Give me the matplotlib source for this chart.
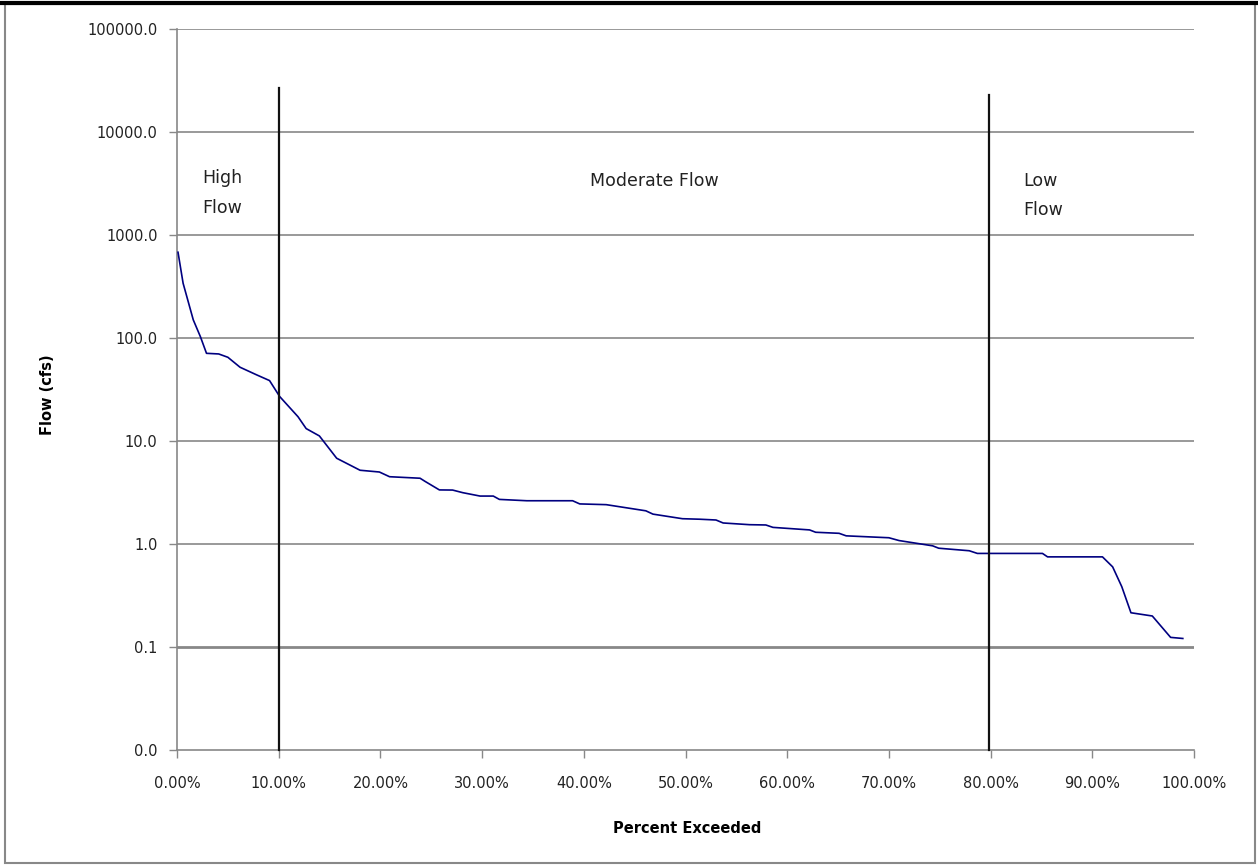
import matplotlib
matplotlib.use("Agg")
import matplotlib.pyplot as plt
from matplotlib.ticker import FixedLocator, FixedFormatter
from matplotlib.patches import Rectangle
from matplotlib.lines import Line2D

# Flow duration curve (percent exceeded vs flow in cfs)
pct_exceeded = [0.1, 0.6, 1.6, 2.3, 2.9, 4.1, 5.0, 6.2, 7.8, 9.1, 10.1, 11.9, 12.7,
                14.0, 15.7, 18.0, 19.9, 20.9, 23.9, 24.4, 25.8, 27.1, 28.1, 29.8,
                31.1, 31.7, 34.4, 38.9, 39.6, 42.2, 46.1, 46.8, 49.7, 51.4, 53.0,
                53.7, 56.3, 57.9, 58.6, 62.2, 62.8, 65.1, 65.8, 70.0, 71.0, 74.3,
                74.9, 77.9, 78.7, 85.1, 85.6, 91.0, 92.0, 92.9, 93.8, 95.9, 97.7, 98.9]
flow_cfs = [680, 340, 150, 103, 71, 70, 65, 52, 44, 38.6, 27, 17.2, 13.2,
            11.2, 6.8, 5.2, 5.0, 4.5, 4.35, 4.05, 3.35, 3.34, 3.15, 2.92,
            2.92, 2.71, 2.63, 2.63, 2.45, 2.41, 2.1, 1.95, 1.76, 1.74, 1.71,
            1.60, 1.54, 1.53, 1.45, 1.37, 1.30, 1.27, 1.20, 1.15, 1.08, 0.96,
            0.91, 0.86, 0.81, 0.81, 0.75, 0.75, 0.60, 0.385, 0.215, 0.20, 0.124, 0.121]

# Flow regime boundaries
boundary_pct = [10.0, 79.8]
boundary_top = [27000, 23000]

y_ticks = [0.01, 0.1, 1, 10, 100, 1000, 10000, 100000]
y_tick_labels = ["0.0", "0.1", "1.0", "10.0", "100.0", "1000.0", "10000.0", "100000.0"]
x_ticks = [0, 10, 20, 30, 40, 50, 60, 70, 80, 90, 100]
x_tick_labels = ["0.00%", "10.00%", "20.00%", "30.00%", "40.00%", "50.00%",
                 "60.00%", "70.00%", "80.00%", "90.00%", "100.00%"]

plt.rcParams['font.family'] = ['DejaVu Sans']

W, H = 1258, 865
fig = plt.figure(figsize=(W / 100, H / 100), dpi=100)
ax = fig.add_axes([177 / W, 1 - 750 / H, (1194 - 177) / W, (750 - 29) / H])

ax.set_yscale('log')
ax.set_ylim(0.01, 100000)
ax.set_xlim(0, 100)

for yt in y_ticks[1:]:
    lw = 2.0 if yt == 0.1 else 1.2
    ax.axhline(yt, color='#888888', lw=lw, zorder=1)

ax.plot(pct_exceeded, flow_cfs, color='#000080', lw=1.2, zorder=3)

for xb, yt in zip(boundary_pct, boundary_top):
    ax.plot([xb, xb], [0.01, yt], color='#111111', lw=1.6, zorder=4, clip_on=False)

ax.yaxis.set_major_locator(FixedLocator(y_ticks))
ax.yaxis.set_major_formatter(FixedFormatter(y_tick_labels))
ax.yaxis.set_minor_locator(FixedLocator([]))
ax.xaxis.set_major_locator(FixedLocator(x_ticks))
ax.xaxis.set_major_formatter(FixedFormatter(x_tick_labels))

for s in ['top', 'right']:
    ax.spines[s].set_visible(False)
for s in ['left', 'bottom']:
    ax.spines[s].set_color('#888888')
    ax.spines[s].set_linewidth(1.2)

ax.tick_params(axis='both', direction='out', length=6, width=1, color='#888888',
               labelsize=10.5, labelcolor='#222222')
ax.tick_params(axis='y', pad=8)
ax.tick_params(axis='x', pad=13)

ax.set_ylabel('Flow (cfs)', fontsize=10.5, fontweight='bold')
ax.set_xlabel('Percent Exceeded', fontsize=10.5, fontweight='bold')
ax.yaxis.set_label_coords(-122 / (1194 - 177), 0.493)
ax.xaxis.set_label_coords(0.502, -71 / (750 - 29))

txt_kw = dict(fontsize=12.5, color='#222222', va='center', ha='left', zorder=5)
ax.text(2.5, 3570, 'High', **txt_kw)
ax.text(2.5, 1830, 'Flow', **txt_kw)
ax.text(40.6, 3340, 'Moderate Flow', **txt_kw)
ax.text(83.2, 3340, 'Low', **txt_kw)
ax.text(83.2, 1750, 'Flow', **txt_kw)

# Chart border
fig.add_artist(Rectangle((5 / W, 2 / H), (1255 - 5) / W, (H - 6) / H,
                         transform=fig.transFigure, fill=False,
                         edgecolor='#888888', lw=1.5))
fig.add_artist(Line2D([0, 1], [1 - 3 / H, 1 - 3 / H], transform=fig.transFigure,
                      color='black', lw=3))

fig.savefig('out.png', dpi=100)
